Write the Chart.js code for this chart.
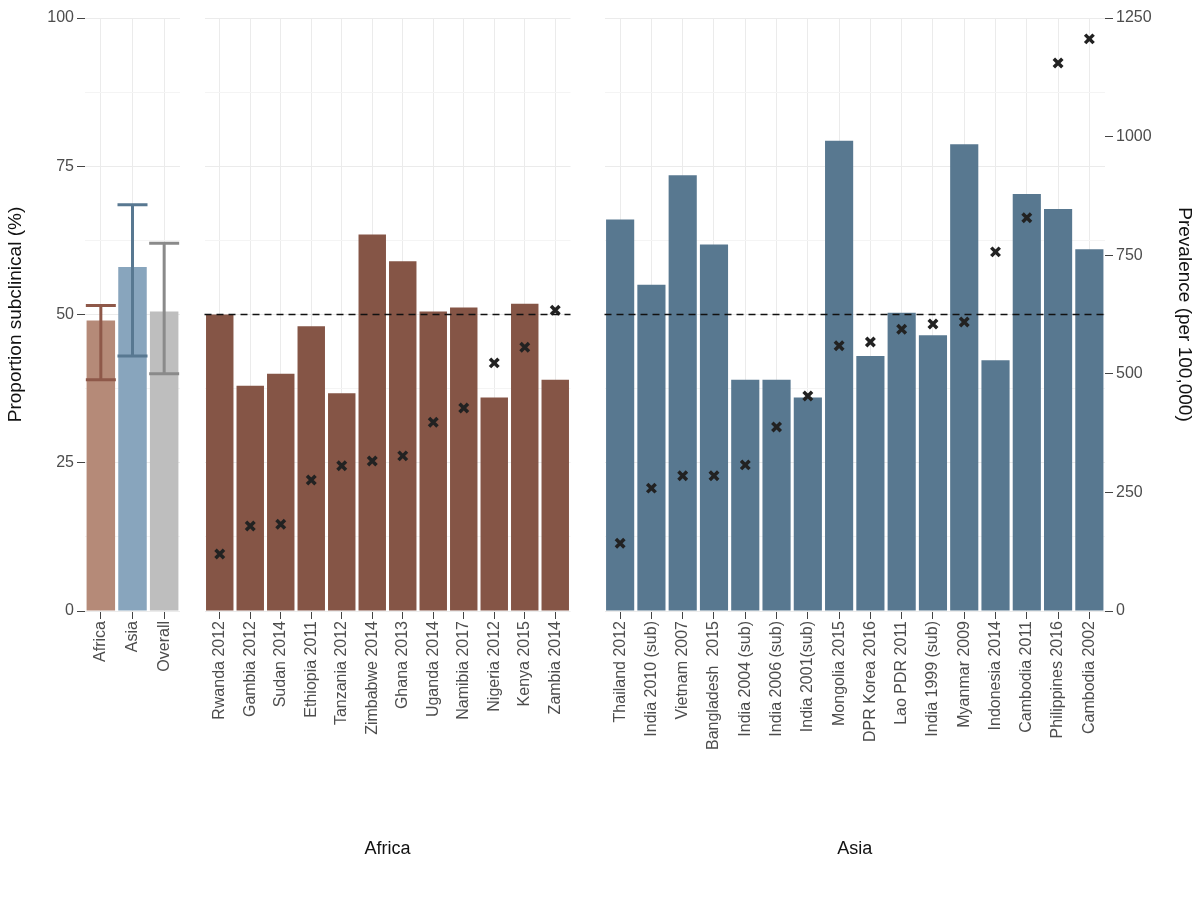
<!DOCTYPE html>
<html><head><meta charset="utf-8">
<script src="https://cdn.jsdelivr.net/npm/chart.js@4/dist/chart.umd.min.js"></script>
<style>
body{margin:0;background:#fff;width:1200px;height:900px;position:relative;overflow:hidden}
.c{position:absolute;top:0;height:900px}
</style></head><body>
<div class="c" style="left:0;width:182px"><canvas id="c1"></canvas></div>
<div class="c" style="left:195px;width:385px"><canvas id="c2"></canvas></div>
<div class="c" style="left:595px;width:605px"><canvas id="c3"></canvas></div>
<script>
// summary panel
var sumLabels = ['Africa', 'Asia', 'Overall'];
var sumValues = [49, 58, 50.5];
var sumLow = [39, 43, 40];
var sumHigh = [51.5, 68.5, 62];
var sumColors = ['#b58a78', '#88a5bd', '#bebebe'];
var sumErrColors = ['#8e5849', '#587891', '#8a8a8a'];

// Africa
var afLabels = ['Rwanda 2012', 'Gambia 2012', 'Sudan 2014', 'Ethiopia 2011', 'Tanzania 2012', 'Zimbabwe 2014',
  'Ghana 2013', 'Uganda 2014', 'Namibia 2017', 'Nigeria 2012', 'Kenya 2015', 'Zambia 2014'];
var afProp = [50, 38, 40, 48, 36.7, 63.5, 59, 50.5, 51.2, 36, 51.8, 39];
var afPrev = [120, 179, 183, 276, 306, 316, 327, 398, 428, 523, 556, 634];

// Asia
var asLabels = ['Thailand 2012', 'India 2010 (sub)', 'Vietnam 2007', 'Bangladesh  2015', 'India 2004 (sub)',
  'India 2006 (sub)', 'India 2001(sub)', 'Mongolia 2015', 'DPR Korea 2016', 'Lao PDR 2011', 'India 1999 (sub)',
  'Myanmar 2009', 'Indonesia 2014', 'Cambodia 2011', 'Philippines 2016', 'Cambodia 2002'];
var asProp = [66, 55, 73.5, 61.8, 39, 39, 36, 79.3, 43, 50.3, 46.5, 78.7, 42.3, 70.3, 67.8, 61];
var asPrev = [143, 259, 285, 285, 308, 388, 453, 559, 567, 594, 605, 609, 757, 829, 1155, 1206];

var FONT = '"Liberation Sans", Arial, sans-serif';
var GRID = '#ebebeb';
var TXT = '#4d4d4d';

function gridColor(ctx) {
    return (ctx.tick && ctx.tick.value % 25 === 0) ? GRID : '#f4f4f4';
}

var refLine = {
    id: 'refLine',
    afterDatasetsDraw: function (chart, args, opts) {
        if (!opts.on) return;
        var y = chart.scales.y.getPixelForValue(50), a = chart.chartArea, c = chart.ctx;
        c.save(); c.strokeStyle = '#111'; c.lineWidth = 1.6; c.setLineDash([7, 5]);
        c.beginPath(); c.moveTo(a.left, y); c.lineTo(a.right, y); c.stroke(); c.restore();
    }
};

var errBars = {
    id: 'errBars',
    afterDatasetsDraw: function (chart, args, opts) {
        if (!opts.on) return;
        var c = chart.ctx, x = chart.scales.x, y = chart.scales.y;
        c.save(); c.lineWidth = 3;
        sumLabels.forEach(function (l, i) {
            var px = x.getPixelForValue(i), lo = y.getPixelForValue(sumLow[i]), hi = y.getPixelForValue(sumHigh[i]);
            c.strokeStyle = sumErrColors[i];
            c.beginPath();
            c.moveTo(px, lo); c.lineTo(px, hi);
            c.moveTo(px - 15, lo); c.lineTo(px + 15, lo);
            c.moveTo(px - 15, hi); c.lineTo(px + 15, hi);
            c.stroke();
        });
        c.restore();
    }
};

function makeChart(id, labels, props, prevs, barColor, opts) {
    var datasets = [];
    if (prevs) {
        datasets.push({
            type: 'scatter', yAxisID: 'y2',
            data: prevs.map(function (v, i) { return {x: labels[i], y: v}; }),
            pointStyle: 'crossRot', pointRadius: 6, borderWidth: 3.5,
            borderColor: '#222', backgroundColor: '#222'
        });
    }
    datasets.push({
        type: 'bar', yAxisID: 'y', data: props, backgroundColor: barColor,
        barPercentage: 0.9, categoryPercentage: 1
    });
    return new Chart(document.getElementById(id), {
        type: 'bar',
        data: {labels: labels, datasets: datasets},
        options: {
            responsive: true, maintainAspectRatio: false, animation: false,
            layout: {padding: {top: 18, right: opts.padRight || 0, left: 0}},
            plugins: {legend: {display: false}, tooltip: {enabled: false},
                refLine: {on: opts.ref}, errBars: {on: opts.err}},
            scales: {
                x: {
                    type: 'category', offset: true,
                    grid: {color: GRID, offset: false, drawTicks: true, tickLength: 8, tickColor: '#444'},
                    border: {display: false},
                    ticks: {minRotation: 90, maxRotation: 90, autoSkip: false, color: TXT,
                        font: {family: FONT, size: 16}, padding: 2},
                    title: {display: !!opts.xTitle, text: opts.xTitle || '', color: '#111',
                        font: {family: FONT, size: 18}, padding: {top: 0, bottom: 40}},
                    afterFit: function (s) { s.height = 289; s.paddingLeft = 0; s.paddingRight = 0; }
                },
                y: {
                    position: 'left', min: 0, max: 100,
                    ticks: {stepSize: 12.5, display: opts.leftAxis, color: TXT, font: {family: FONT, size: 16},
                        callback: function (v) { return v % 25 === 0 ? v : ''; }},
                    grid: {color: gridColor, drawTicks: opts.leftAxis, tickLength: 8,
                        tickColor: function (c) { return c.tick.value % 25 === 0 ? '#444' : 'rgba(0,0,0,0)'; }},
                    border: {display: false},
                    title: {display: opts.leftAxis, text: 'Proportion subclinical (%)', color: '#111',
                        font: {family: FONT, size: 19}},
                    afterFit: function (s) { s.width = opts.leftAxis ? 85 : 0; }
                },
                y2: {
                    position: 'right', min: 0, max: 1250, display: !!opts.rightAxis,
                    ticks: {stepSize: 250, color: TXT, font: {family: FONT, size: 16},
                        callback: function (v) { return String(v); }},
                    grid: {drawOnChartArea: false, tickLength: 8, tickColor: '#444'},
                    border: {display: false},
                    title: {display: true, text: 'Prevalence (per 100,000)', color: '#111',
                        font: {family: FONT, size: 19}},
                    afterFit: function (s) { s.width = opts.rightAxis ? 95 : 0; }
                }
            }
        },
        plugins: [refLine, errBars]
    });
}

makeChart('c1', sumLabels, sumValues, null, sumColors, {leftAxis: true, err: true, padRight: 2});
makeChart('c2', afLabels, afProp, afPrev, '#855546', {leftAxis: false, ref: true, xTitle: 'Africa'});
makeChart('c3', asLabels, asProp, asPrev, '#587890', {leftAxis: false, rightAxis: true, ref: true, xTitle: 'Asia'});
</script>
</body></html>
